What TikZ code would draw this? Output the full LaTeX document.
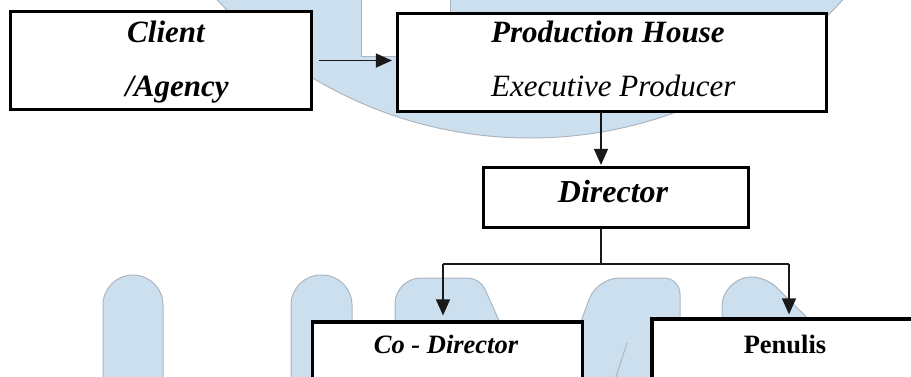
\documentclass[tikz,border=0pt]{standalone}
\usepackage{fontspec}
\setmainfont{Liberation Serif}
\usetikzlibrary{arrows.meta}
\definecolor{wmfill}{RGB}{204,223,238}
\definecolor{wmline}{RGB}{172,182,192}
\begin{document}
\begin{tikzpicture}[x=1pt,y=-1pt,
  box/.style={draw=black, line width=3.2pt, fill=white, inner sep=0pt},
  wm/.style={fill=wmfill, draw=wmline, line width=1pt},
  conn/.style={draw=black!90, line width=1.3pt},
  arr/.style={conn, -{Triangle[length=16pt,width=14pt]}},
  lbl/.style={inner sep=0pt, anchor=base},
  bigbi/.style={lbl, font=\fontsize{31}{37}\selectfont\bfseries\itshape},
  bigi/.style={lbl, font=\fontsize{31}{37}\selectfont\itshape},
  smbi/.style={lbl, font=\fontsize{26.5}{32}\selectfont\bfseries\itshape},
  smb/.style={lbl, font=\fontsize{26.5}{32}\selectfont\bfseries}]
\useasboundingbox (0,0) rectangle (911,376);
% watermark
\begin{scope}
\clip (0,0) rectangle (911,376);
\path[wm] (530,-285) circle (423);
\path[fill=white, draw=wmline, line width=1pt] (361,-5) rectangle (450,56);
\path[wm, rounded corners=30pt] (103,400) -- (103,275) -- (163,275) -- (163,400);
\path[wm, rounded corners=30pt] (291,400) -- (291,275) -- (352,275) -- (352,400);
\path[wm] (395,400) [rounded corners=26pt] -- (395,278) [rounded corners=12pt] -- (480,278) [sharp corners] -- (530,390);
\path[wm] (552,400) [rounded corners=22pt] -- (597,278) [rounded corners=16pt] -- (680,278) [sharp corners] -- (680,400);
\draw[wmline, line width=1pt] (615,380) -- (627,343);
\path[wm] (722,400) [rounded corners=30pt] -- (722,277) [rounded corners=14pt] -- (766,277) [sharp corners] -- (880,390);
\end{scope}
% boxes
\node[box, minimum width=301pt, minimum height=98pt] (client) at (161,60.5) {};
\node[box, minimum width=429pt, minimum height=98pt] (prod) at (612,62.5) {};
\node[box, minimum width=265pt, minimum height=60pt] (dir) at (616,197.5) {};
\node[box, minimum width=270pt, minimum height=78pt] (codir) at (447.5,361) {};
\node[box, minimum width=278pt, minimum height=81pt] (pen) at (791,359.5) {};
% texts
\node[bigbi] (tclient) at (166,42) {Client};
\node[bigbi] (tagency) at (177,96) {/Agency};
\node[bigbi, anchor=base west] (tprod) at (491,42) {Production House};
\node[bigi, anchor=base west] (texec) at (491,96) {Executive Producer};
\node[lbl, font=\fontsize{32}{38}\selectfont\bfseries\itshape] (tdir) at (613,202) {Director};
\node[smbi] (tcodir) at (446,353) {Co - Director};
\node[smb] (tpen) at (785,353) {Penulis};
% connectors
\coordinate (s1) at (601,0);
\coordinate (bm) at (601,264);
\coordinate (bl) at (443,264);
\coordinate (br) at (789,264);
\draw[arr, shorten <=6pt, shorten >=4pt] (client.east) -- (client.east -| prod.west);
\draw[arr, shorten >=1pt] (prod.south -| s1) -- (dir.north -| s1);
\draw[conn] (dir.south -| bm) -- (bm);
\draw[conn] (bl) -- (br);
\draw[arr, shorten >=5pt] (bl) -- (bl |- codir.north);
\draw[arr, shorten >=3pt] (br) -- (br |- pen.north);
\end{tikzpicture}
\end{document}
